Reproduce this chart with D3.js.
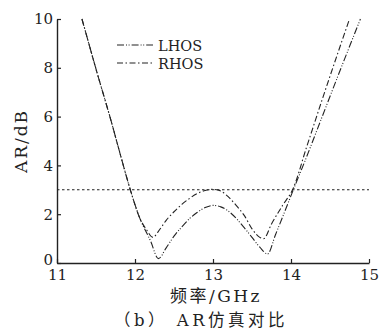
<!DOCTYPE html>
<html>
<head>
<meta charset="utf-8">
<script src="https://cdn.jsdelivr.net/npm/d3@7"></script>
<style>
  html, body { margin: 0; padding: 0; background: #fff; }
  svg { display: block; }
  text { font-family: "DejaVu Serif", "Noto Sans CJK SC", serif; fill: #222; }
</style>
</head>
<body>
<svg id="chart" width="384" height="330"></svg>
<script>
// Frequency axis (GHz) and axial ratio (dB)
const xTicks = [11, 12, 13, 14, 15];
const yTicks = [0, 2, 4, 6, 8, 10];
const threshold = 3;

const lhosFreq = [11.32, 11.5, 11.7, 11.82, 11.94, 12.06, 12.2, 12.3, 12.4, 12.5, 12.6, 12.7, 12.8, 12.9, 13.0, 13.1, 13.2, 13.3, 13.4, 13.5, 13.6, 13.7, 13.8, 13.9, 14.03, 14.2, 14.4, 14.6, 14.89];
const lhosAR   = [10, 7.95, 5.75, 4.35, 3.0, 1.85, 0.9, 0.18, 0.62, 1.1, 1.48, 1.82, 2.08, 2.27, 2.36, 2.3, 2.12, 1.82, 1.45, 1.05, 0.65, 0.37, 1.15, 1.95, 3.0, 4.35, 6.0, 7.65, 10];

const rhosFreq = [11.32, 11.5, 11.7, 11.82, 11.94, 12.06, 12.15, 12.23, 12.3, 12.4, 12.5, 12.6, 12.7, 12.8, 12.9, 13.0, 13.1, 13.2, 13.3, 13.4, 13.5, 13.6, 13.65, 13.75, 13.9, 14.02, 14.2, 14.4, 14.6, 14.75];
const rhosAR   = [10, 7.95, 5.75, 4.35, 3.0, 1.85, 1.35, 1.05, 1.3, 1.75, 2.1, 2.4, 2.65, 2.85, 2.97, 3.02, 2.95, 2.7, 2.35, 1.95, 1.4, 1.05, 1.0, 1.6, 2.4, 3.0, 4.75, 6.7, 8.6, 10];

const seriesNames = ["LHOS", "RHOS"];
const dashes = { LHOS: "7,2,1,1.6,1,2", RHOS: "6,2.5,1.5,2.5" };

const serif = "'DejaVu Serif', serif";
const mixed = "'DejaVu Serif', 'Noto Sans CJK SC', serif";

const svg = d3.select("#chart");
const x = d3.scaleLinear().domain([11, 15]).range([57, 369]);
const y = d3.scaleLinear().domain([0, 10]).range([263, 19]);

const ink = "#222";

function styleAxis(g) {
  g.attr("font-family", serif).attr("font-size", 15);
  g.select(".domain").attr("stroke", ink).attr("stroke-width", 1.4);
  g.selectAll(".tick line").attr("stroke", ink).attr("stroke-width", 1.2);
  g.selectAll(".tick text").attr("fill", ink)
    .style("font-family", serif).style("font-size", "15px");
}

// Left axis with inward ticks
const yAxis = d3.axisLeft(y).tickValues(yTicks).tickSizeInner(-4).tickSizeOuter(0).tickPadding(4).tickFormat(d3.format("d"));
const gy = svg.append("g").attr("transform", `translate(${x(11)},0)`).call(yAxis);
styleAxis(gy);

// Bottom axis with inward ticks
const xAxis = d3.axisBottom(x).tickValues(xTicks).tickSizeInner(-4).tickSizeOuter(0).tickPadding(6).tickFormat(d3.format("d"));
const gx = svg.append("g").attr("transform", `translate(0,${y(0)})`).call(xAxis);
styleAxis(gx);
// keep the "0" and "11" corner labels apart
gy.selectAll(".tick").filter(d => d === 0).select("text").attr("dy", "0.1em");

// 3 dB reference line
svg.append("line")
  .attr("x1", x(11)).attr("x2", x(15))
  .attr("y1", y(threshold)).attr("y2", y(threshold))
  .attr("stroke", ink).attr("stroke-width", 1.1)
  .attr("stroke-dasharray", "2.5,2.5");

const line = d3.line()
  .x(d => x(d[0])).y(d => y(d[1]))
  .curve(d3.curveMonotoneX);

const series = {
  LHOS: lhosFreq.map((f, i) => [f, lhosAR[i]]),
  RHOS: rhosFreq.map((f, i) => [f, rhosAR[i]])
};

seriesNames.forEach(name => {
  svg.append("path")
    .datum(series[name])
    .attr("d", line)
    .attr("fill", "none")
    .attr("stroke", ink)
    .attr("stroke-width", 1.1)
    .attr("stroke-dasharray", dashes[name]);
});

// Legend
const legendY = [45, 63];
seriesNames.forEach((name, i) => {
  svg.append("line")
    .attr("x1", 117).attr("x2", 153)
    .attr("y1", legendY[i]).attr("y2", legendY[i])
    .attr("stroke", ink).attr("stroke-width", 1.1)
    .attr("stroke-dasharray", dashes[name]);
  svg.append("text")
    .attr("x", 158).attr("y", legendY[i] + 5.5)
    .attr("font-family", serif)
    .attr("font-size", 14.5)
    .text(name);
});

// Axis titles
svg.append("text")
  .attr("transform", `translate(27,141) rotate(-90)`)
  .attr("text-anchor", "middle")
  .attr("font-family", serif)
  .attr("font-size", 17)
  .attr("letter-spacing", 2)
  .text("AR/dB");

svg.append("text")
  .attr("x", 216).attr("y", 302)
  .attr("text-anchor", "middle")
  .attr("font-family", mixed)
  .attr("font-size", 17)
  .attr("letter-spacing", 2.5)
  .text("频率/GHz");

svg.append("text")
  .attr("x", 201).attr("y", 326)
  .attr("text-anchor", "middle")
  .attr("font-family", mixed)
  .attr("font-size", 16.5)
  .attr("letter-spacing", 3.5)
  .text("（b） AR仿真对比");
</script>
</body>
</html>
